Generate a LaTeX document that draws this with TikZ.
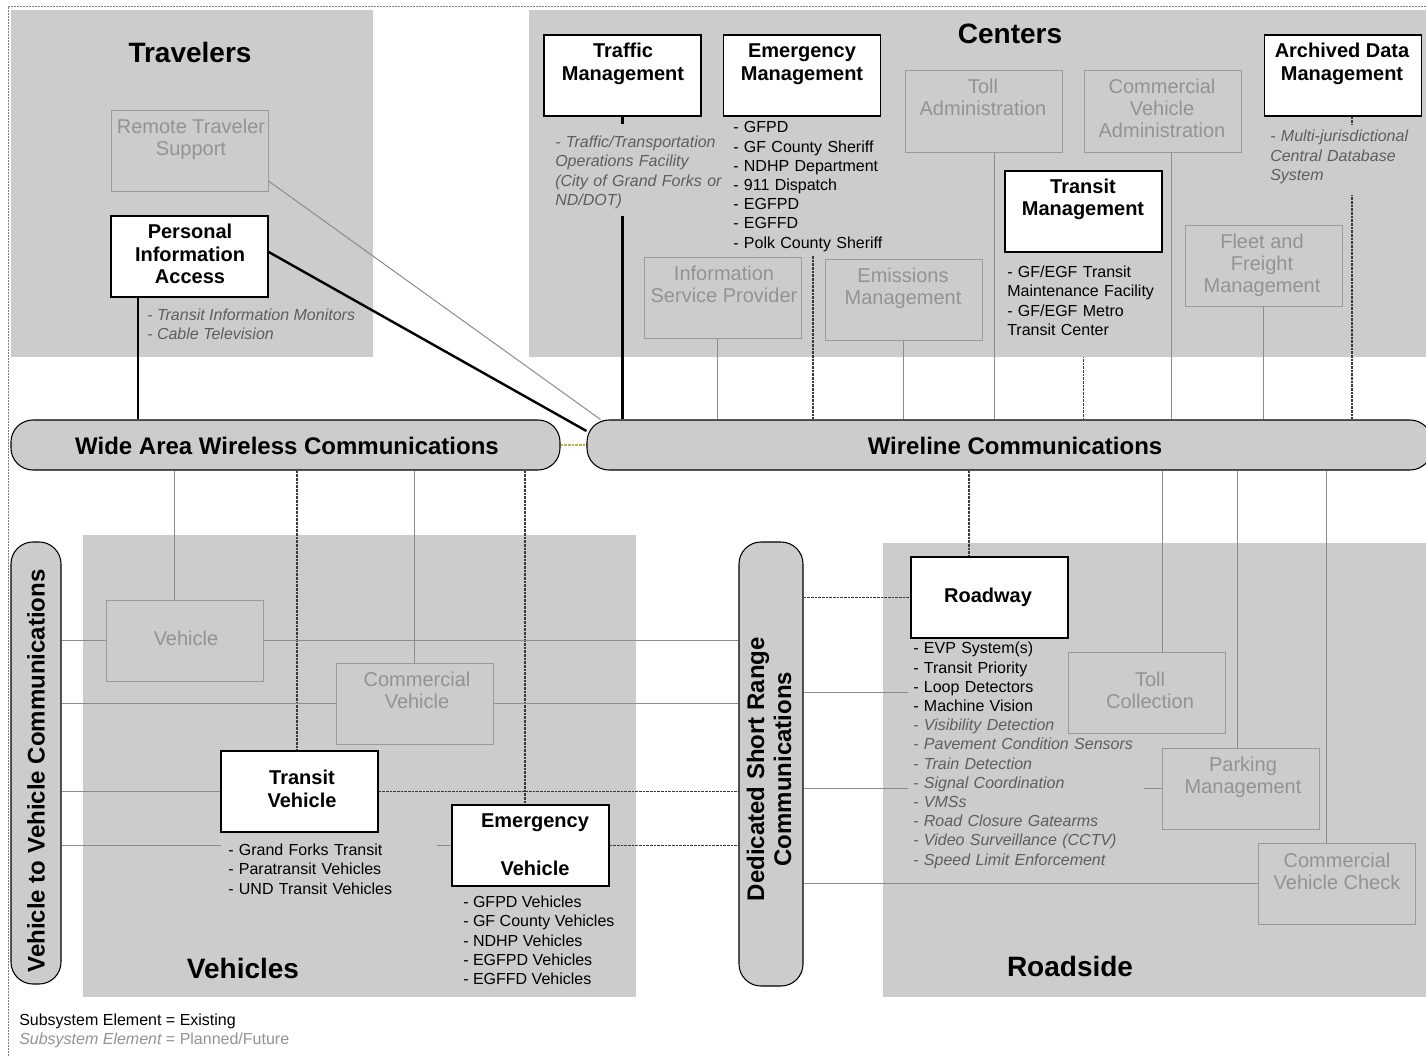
\documentclass[tikz,border=0pt]{standalone}
\usepackage{fontspec}
\setmainfont{Liberation Sans}
\pgfdeclarelayer{bg}
\pgfdeclarelayer{lines}
\pgfsetlayers{bg,lines,main}
\definecolor{regiongray}{HTML}{CCCCCC}
\definecolor{planline}{HTML}{9A9A9A}
\definecolor{plantext}{HTML}{939393}
\definecolor{listgray}{HTML}{5E5E5E}
\definecolor{thinline}{HTML}{8C8C8C}
\definecolor{dashline}{HTML}{3A3A3A}
\definecolor{linkolive}{HTML}{B5B54E}
\definecolor{framegray}{HTML}{808080}
% invisible rules that pad the first and last line of a text block
\newcommand\liftrule[1]{\rule{0pt}{#1}}
\newcommand\droprule[1]{\rule[-#1]{0pt}{#1}}
\tikzset{
  region/.style={fill=regiongray, draw=none},
  ebox/.style={draw=black, line width=1.1pt, fill=white, minimum width=117.75pt, minimum height=60.75pt, inner sep=0pt},
  pbox/.style={draw=planline, line width=0.75pt, fill=regiongray, minimum width=117.75pt, minimum height=60.75pt, inner sep=0pt},
  commbar/.style={draw=black, line width=0.8pt, fill=regiongray, rounded corners=16.5pt, inner sep=0pt},
  titletxt/.style={font=\bfseries\fontsize{21}{25}\selectfont, inner sep=0pt},
  bartxt/.style={font=\bfseries\fontsize{18}{20.25}\selectfont, inner sep=0pt, align=center},
  etxt/.style={font=\bfseries\fontsize{15}{17}\selectfont, inner sep=0pt, align=center},
  ptxt/.style={font=\fontsize{15}{16.5}\selectfont, text=plantext, inner sep=0pt, align=center},
  elist/.style={font=\fontsize{12}{14.4}\selectfont, anchor=north west, inner ysep=0pt, inner xsep=1.5pt, align=left},
  plist/.style={elist, font=\itshape\fontsize{12}{14.4}\selectfont, text=listgray},
  covered/.style={fill=regiongray},
  conngray/.style={draw=thinline, line width=0.75pt},
  connplan/.style={draw=dashline, line width=1.2pt, dash pattern=on 2pt off 0.75pt},
  connexist/.style={draw=black, line width=1.8pt},
  connlink/.style={draw=linkolive, line width=2pt, dash pattern=on 2pt off 0.75pt},
}
\begin{document}
\begin{tikzpicture}[x=0.75pt, y=-0.75pt]
\useasboundingbox (0,0) rectangle (1426,1056);

% ---------- background: frame and subsystem regions ----------
\begin{pgfonlayer}{bg}
  \fill[white] (0,0) rectangle (1426,1056);
  \draw[framegray, line width=0.5pt, dash pattern=on 1.5pt off 0.75pt] (1426,6) -- (8,6) -- (8,1056);
  \fill[region] (11,10) rectangle (373,357);
  \fill[region] (529,10) rectangle (1426,357);
  \fill[region] (83,535) rectangle (636,997);
  \fill[region] (883,543) rectangle (1426,997);
\end{pgfonlayer}

% ---------- region titles ----------
\node[titletxt] (travtitle) at (190,52) {Travelers};
\node[titletxt] (centtitle) at (1010,34) {Centers};
\node[titletxt] (vehtitle) at (243,968) {Vehicles};
\node[titletxt] (roadtitle) at (1070,966) {Roadside};

% ---------- communication bars ----------
\node[commbar, minimum width=411.75pt, minimum height=37.5pt] (wa) at (285.5,445) {};
\node[commbar, minimum width=633.75pt, minimum height=37.5pt] (wl) at (1009.5,445) {};
\node[commbar, minimum width=37.5pt, minimum height=331.5pt] (v2v) at (36,763) {};
\node[commbar, minimum width=48pt, minimum height=333pt] (dsrc) at (771,764) {};
\node[bartxt] (wat) at (287,446) {Wide Area Wireless Communications};
\node[bartxt] (wlt) at (1015,446) {Wireline Communications};
\node[bartxt, rotate=90] (v2vt) at (36,771) {Vehicle to Vehicle Communications};
\node[bartxt, rotate=90] (dsrct) at (769,769) {Dedicated Short Range\\Communications};

% ---------- element lists (their fill hides the connectors behind) ----------
\node[plist] (pial) at (145,305) {\liftrule{11.6pt}- Transit Information Monitors\\- Cable Television};
\node[plist, covered, text width=127.5pt] (trafml) at (553,124)
  {\liftrule{17.6pt}- Traffic/Transportation\\Operations Facility\\(City of Grand Forks or\\ND/DOT)\droprule{8.2pt}};
\node[elist, covered, text width=120pt] (emml) at (731,116)
  {\liftrule{12.4pt}- GFPD\\- GF County Sheriff\\- NDHP Department\\- 911 Dispatch\\- EGFPD\\- EGFFD\\- Polk County Sheriff\droprule{5.5pt}};
\node[elist, covered, text width=114.75pt] (tranml) at (1005,252)
  {\liftrule{19.1pt}- GF/EGF Transit\\Maintenance Facility\\- GF/EGF Metro\\Transit Center\droprule{16.4pt}};
\node[plist, covered, text width=108.75pt] (adml) at (1268,125)
  {\liftrule{12.4pt}- Multi-jurisdictional\\Central Database\\System\droprule{11.3pt}};
\node[elist, covered, inner xsep=5.25pt, text width=151.5pt] (tvl) at (221,834)
  {\liftrule{16.1pt}- Grand Forks Transit\\- Paratransit Vehicles\\- UND Transit Vehicles\droprule{4.5pt}};
\node[elist] (evl) at (461,890)
  {\liftrule{13.1pt}- GFPD Vehicles\\- GF County Vehicles\\- NDHP Vehicles\\- EGFPD Vehicles\\- EGFFD Vehicles};
\node[elist, covered, inner xsep=3.75pt, text width=169.5pt] (roadl) at (908,639)
  {\liftrule{10.9pt}- EVP System(s)\\- Transit Priority\\- Loop Detectors\\- Machine Vision\\\color{listgray}\itshape - Visibility Detection\\- Pavement Condition Sensors\\- Train Detection\\- Signal Coordination\\- VMSs\\- Road Closure Gatearms\\- Video Surveillance (CCTV)\\- Speed Limit Enforcement\droprule{4pt}};

% ---------- subsystem boxes ----------
\node[pbox] (rts) at (189.5,150.5) {};
\node[ebox] (pia) at (189.5,256.5) {};
\node[ebox] (trafm) at (622.5,75.5) {};
\node[ebox] (emm) at (802,75.5) {};
\node[pbox] (tolla) at (983.5,111.5) {};
\node[pbox] (cva) at (1162.5,111.5) {};
\node[ebox] (tranm) at (1083.5,211.5) {};
\node[pbox] (ffm) at (1263.5,265.5) {};
\node[ebox] (adm) at (1343,75.5) {};
\node[pbox] (isp) at (723,297.5) {};
\node[pbox] (emsm) at (903.5,299.5) {};
\node[pbox] (veh) at (184.5,640.5) {};
\node[pbox] (cv) at (414.5,703.5) {};
\node[ebox] (tv) at (299.5,791.5) {};
\node[ebox] (ev) at (530.5,845.5) {};
\node[ebox] (road) at (989.5,597.5) {};
\node[pbox] (tollc) at (1146.5,692.5) {};
\node[pbox] (pkm) at (1240.5,788.5) {};
\node[pbox] (cvc) at (1336.5,883.5) {};

% ---------- box labels ----------
\node[ptxt] (rtst) at (191,139) {Remote Traveler\\Support};
\node[etxt] (piat) at (190,254) {Personal\\Information\\Access};
\node[etxt] (trafmt) at (623,64) {Traffic\\Management};
\node[etxt] (emmt) at (802,64) {Emergency\\Management};
\node[ptxt] (tollat) at (983,97.5) {Toll\\Administration};
\node[ptxt] (cvat) at (1162,108.5) {Commercial\\Vehicle\\Administration};
\node[etxt] (tranmt) at (1083,199.5) {Transit\\Management};
\node[ptxt] (ffmt) at (1262,265.5) {Fleet and\\Freight\\Management};
\node[etxt] (admt) at (1342,64) {Archived Data\\Management};
\node[ptxt] (ispt) at (724,284) {Information\\Service Provider};
\node[ptxt] (emsmt) at (903,288) {Emissions\\Management};
\node[ptxt] (veht) at (186,638) {Vehicle};
\node[ptxt] (cvt) at (417,690) {Commercial\\Vehicle};
\node[etxt] (tvt) at (302,789) {Transit\\Vehicle};
\node[etxt] (evt) at (535,845) {Emergency\\[19pt]Vehicle};
\node[etxt] (roadt) at (988,597) {Roadway};
\node[ptxt] (tollct) at (1150,690) {Toll\\Collection};
\node[ptxt] (pkmt) at (1243,777.5) {Parking\\Management};
\node[ptxt] (cvct) at (1337,871) {Commercial\\Vehicle Check};

% ---------- legend ----------
\node[font=\fontsize{12}{14.4}\selectfont, anchor=base west, inner sep=0pt] (leg1) at (19,1025.5) {Subsystem Element = Existing};
\node[font=\fontsize{12}{14.4}\selectfont, text=plantext, anchor=base west, inner sep=0pt] (leg2) at (19,1044.5) {{\itshape Subsystem Element} = Planned/Future};

% ---------- connectors ----------
\begin{pgfonlayer}{lines}
  % travelers
  \draw[connexist] ([xshift=-38.625pt]pia.south) -- ([xshift=-38.625pt]pia.south |- wa.north);
  \draw[connexist] ([yshift=3.375pt]pia.east) -- ([yshift=10.5pt]wl.west);
  \draw[conngray] ([yshift=-22.875pt]rts.east) -- ([xshift=10.5pt]wl.north west);
  % centers to wireline
  \draw[connexist] (trafm.south) -- (trafm.south |- wl.north);
  \draw[conngray] ([xshift=-4.5pt]isp.south) -- ([xshift=-4.5pt]isp.south |- wl.north);
  \draw[connplan] ([xshift=8.25pt]emm.south) -- ([xshift=8.25pt]emm.south |- wl.north);
  \draw[conngray] (emsm.south) -- (emsm.south |- wl.north);
  \draw[conngray] ([xshift=7.875pt]tolla.south) -- ([xshift=7.875pt]tolla.south |- wl.north);
  \draw[connplan] (tranm.south) -- (tranm.south |- wl.north);
  \draw[conngray] ([xshift=6.375pt]cva.south) -- ([xshift=6.375pt]cva.south |- wl.north);
  \draw[conngray] (ffm.south) -- (ffm.south |- wl.north);
  \draw[connplan] ([xshift=6.75pt]adm.south) -- ([xshift=6.75pt]adm.south |- wl.north);
  % link between the two wide-area bars
  \draw[connlink] (wa.east) -- (wl.west);
  % wide area wireless to vehicles
  \draw[conngray] ([xshift=-7.875pt]veh.north |- wa.south) -- ([xshift=-7.875pt]veh.north);
  \draw[connplan] ([xshift=-1.875pt]tv.north |- wa.south) -- ([xshift=-1.875pt]tv.north);
  \draw[conngray] (cv.north |- wa.south) -- (cv.north);
  \draw[connplan] ([xshift=-4.125pt]ev.north |- wa.south) -- ([xshift=-4.125pt]ev.north);
  % vehicle to vehicle
  \draw[conngray] (v2v.east |- veh.west) -- (veh.west);
  \draw[conngray] (v2v.east |- cv.west) -- (cv.west);
  \draw[conngray] (v2v.east |- tv.west) -- (tv.west);
  \draw[conngray] (v2v.east |- ev.west) -- (ev.west);
  % dedicated short range
  \draw[conngray] (veh.east) -- (veh.east -| dsrc.west);
  \draw[conngray] (cv.east) -- (cv.east -| dsrc.west);
  \draw[connplan] (tv.east) -- (tv.east -| dsrc.west);
  \draw[connplan] (ev.east) -- (ev.east -| dsrc.west);
  \draw[connplan] (dsrc.east |- road.west) -- (road.west);
  \draw[conngray] (dsrc.east |- tollc.west) -- (tollc.west);
  \draw[conngray] (dsrc.east |- pkm.west) -- (pkm.west);
  \draw[conngray] (dsrc.east |- cvc.west) -- (cvc.west);
  % wireline to roadside
  \draw[connplan] ([xshift=-15.375pt]road.north |- wl.south) -- ([xshift=-15.375pt]road.north);
  \draw[conngray] ([xshift=11.625pt]tollc.north |- wl.south) -- ([xshift=11.625pt]tollc.north);
  \draw[conngray] ([xshift=-2.625pt]pkm.north |- wl.south) -- ([xshift=-2.625pt]pkm.north);
  \draw[conngray] ([xshift=-7.875pt]cvc.north |- wl.south) -- ([xshift=-7.875pt]cvc.north);
\end{pgfonlayer}
\end{tikzpicture}
\end{document}
